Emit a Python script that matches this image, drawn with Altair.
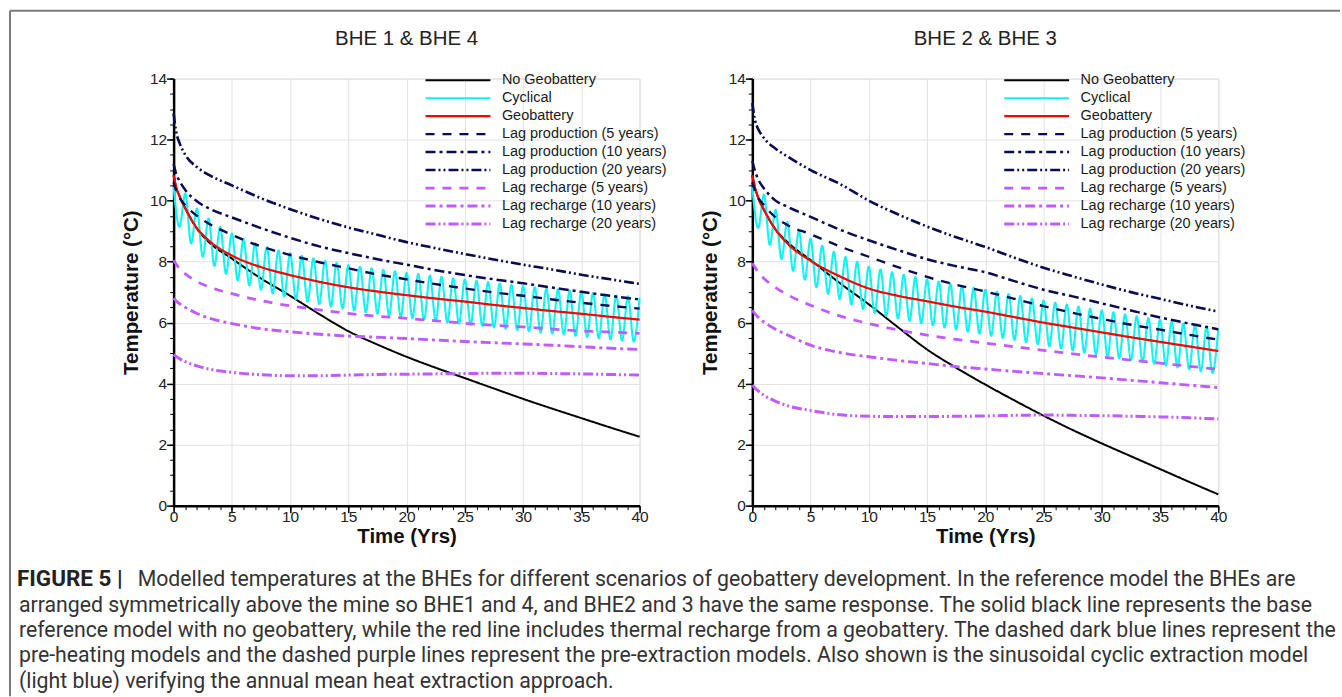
import altair as alt
import pandas as pd

SERIES = ["No Geobattery", "Cyclical", "Geobattery",
          "Lag production (5 years)", "Lag production (10 years)", "Lag production (20 years)",
          "Lag recharge (5 years)", "Lag recharge (10 years)", "Lag recharge (20 years)"]
COLORS = ["#000000", "#12F2F2", "#FF0000", "#0B0B50", "#0B0B50", "#0B0B50", "#BF5BFF", "#BF5BFF", "#BF5BFF"]
DASHES = [[1, 0], [1, 0], [1, 0], [9, 8], [10, 4, 3, 4], [10, 3, 2, 3, 2, 3], [9, 8], [10, 4, 3, 4], [10, 3, 2, 3, 2, 3]]
WIDTHS = [2, 3, 2, 2.5, 2.5, 2.5, 2.5, 2.5, 2.5]

TIME = [0, 0.25, 0.5, 1, 2, 3, 5, 7.5, 10, 12.5, 15, 17.5, 20, 22.5, 25, 27.5, 30, 32.5, 35, 37.5, 40]

# ---- BHE 1 & BHE 4 ----
L_NO_GEO = [10.83, 10.4, 10.15, 9.75, 9.08, 8.65, 8.1, 7.45, 6.88, 6.28, 5.72, 5.28, 4.88, 4.52, 4.18, 3.84, 3.5, 3.18, 2.87, 2.56, 2.26]
L_GEO = [10.83, 10.4, 10.15, 9.75, 9.1, 8.7, 8.2, 7.82, 7.56, 7.34, 7.16, 7.02, 6.9, 6.79, 6.69, 6.58, 6.48, 6.38, 6.29, 6.19, 6.1]
L_PROD5 = [10.6, 10.3, 10.1, 9.85, 9.5, 9.25, 8.88, 8.5, 8.22, 7.98, 7.78, 7.58, 7.42, 7.26, 7.12, 6.99, 6.88, 6.76, 6.65, 6.55, 6.46]
L_PROD10 = [11.2, 10.85, 10.65, 10.35, 9.98, 9.75, 9.45, 9.1, 8.78, 8.5, 8.28, 8.08, 7.9, 7.72, 7.56, 7.42, 7.29, 7.15, 7.01, 6.88, 6.76]
L_PROD20 = [12.85, 12.2, 11.9, 11.5, 11.1, 10.85, 10.5, 10.08, 9.72, 9.4, 9.12, 8.88, 8.64, 8.44, 8.25, 8.07, 7.9, 7.74, 7.57, 7.42, 7.27]
L_RECH5 = [8.05, 7.9, 7.78, 7.6, 7.35, 7.18, 6.95, 6.72, 6.55, 6.42, 6.3, 6.21, 6.14, 6.06, 5.98, 5.91, 5.86, 5.79, 5.73, 5.69, 5.65]
L_RECH10 = [6.8, 6.7, 6.62, 6.5, 6.3, 6.15, 5.97, 5.8, 5.7, 5.62, 5.56, 5.52, 5.48, 5.43, 5.38, 5.34, 5.3, 5.26, 5.21, 5.16, 5.12]
L_RECH20 = [4.95, 4.88, 4.82, 4.72, 4.58, 4.48, 4.37, 4.29, 4.26, 4.26, 4.28, 4.3, 4.31, 4.32, 4.33, 4.34, 4.34, 4.33, 4.32, 4.3, 4.28]
L_CYC_START = 10.45
L_CYC_PEAKS = [10.23, 9.74, 9.41, 9.14, 8.92, 8.74, 8.60, 8.48, 8.37, 8.28, 8.19, 8.11, 8.03, 7.96, 7.89, 7.83, 7.78, 7.73, 7.68, 7.63,
               7.59, 7.54, 7.50, 7.45, 7.41, 7.37, 7.33, 7.28, 7.24, 7.20, 7.16, 7.12, 7.09, 7.05, 7.01, 6.97, 6.93, 6.89, 6.86, 6.82]
L_CYC_TROUGHS = [9.14, 8.60, 8.16, 7.86, 7.60, 7.38, 7.22, 7.08, 6.96, 6.86, 6.77, 6.69, 6.61, 6.53, 6.46, 6.40, 6.34, 6.29, 6.24, 6.19,
                 6.15, 6.10, 6.06, 6.01, 5.97, 5.93, 5.89, 5.84, 5.80, 5.76, 5.72, 5.68, 5.64, 5.61, 5.57, 5.53, 5.49, 5.45, 5.41, 5.38]

# ---- BHE 2 & BHE 3 ----
R_NO_GEO = [10.83, 10.4, 10.1, 9.7, 9.05, 8.65, 8.05, 7.3, 6.6, 5.85, 5.12, 4.52, 3.97, 3.45, 2.95, 2.48, 2.04, 1.62, 1.2, 0.78, 0.37]
R_GEO = [10.83, 10.4, 10.1, 9.7, 9.05, 8.6, 8.03, 7.52, 7.12, 6.88, 6.7, 6.52, 6.36, 6.18, 6.0, 5.84, 5.68, 5.52, 5.37, 5.22, 5.07]
R_PROD5 = [10.6, 10.3, 10.1, 9.85, 9.45, 9.2, 8.9, 8.5, 8.16, 7.82, 7.5, 7.24, 7.02, 6.78, 6.54, 6.32, 6.12, 5.93, 5.77, 5.6, 5.44]
R_PROD10 = [11.3, 10.95, 10.7, 10.4, 10.0, 9.8, 9.47, 9.05, 8.7, 8.38, 8.08, 7.85, 7.65, 7.36, 7.08, 6.86, 6.63, 6.4, 6.17, 5.97, 5.78]
R_PROD20 = [13.2, 12.6, 12.35, 12.05, 11.7, 11.45, 11.0, 10.55, 10.0, 9.55, 9.15, 8.8, 8.48, 8.13, 7.8, 7.52, 7.25, 7.0, 6.78, 6.56, 6.36]
R_RECH5 = [7.95, 7.8, 7.65, 7.45, 7.15, 6.92, 6.57, 6.22, 5.97, 5.76, 5.59, 5.45, 5.33, 5.21, 5.09, 4.98, 4.87, 4.77, 4.67, 4.57, 4.47]
R_RECH10 = [6.4, 6.28, 6.18, 6.02, 5.78, 5.6, 5.26, 5.02, 4.88, 4.76, 4.66, 4.56, 4.48, 4.4, 4.33, 4.26, 4.19, 4.11, 4.03, 3.95, 3.87]
R_RECH20 = [3.95, 3.85, 3.76, 3.62, 3.42, 3.28, 3.12, 2.98, 2.93, 2.92, 2.92, 2.93, 2.94, 2.96, 2.97, 2.96, 2.95, 2.93, 2.91, 2.88, 2.84]
R_CYC_START = 10.45
R_CYC_PEAKS = [10.2, 9.7, 9.3, 9.0, 8.75, 8.52, 8.32, 8.15, 7.99, 7.84, 7.74, 7.65, 7.57, 7.49, 7.42, 7.35, 7.27, 7.21, 7.14, 7.08,
               7.01, 6.94, 6.87, 6.79, 6.72, 6.66, 6.59, 6.53, 6.46, 6.40, 6.34, 6.27, 6.21, 6.15, 6.09, 6.03, 5.97, 5.91, 5.85, 5.79]
R_CYC_TROUGHS = [9.1, 8.55, 8.08, 7.70, 7.41, 7.16, 6.95, 6.77, 6.60, 6.45, 6.32, 6.22, 6.14, 6.06, 5.98, 5.91, 5.84, 5.77, 5.70, 5.64,
                 5.57, 5.50, 5.43, 5.36, 5.29, 5.22, 5.15, 5.09, 5.02, 4.96, 4.90, 4.83, 4.77, 4.71, 4.65, 4.59, 4.53, 4.47, 4.41, 4.35]

X_MAJOR = [0, 5, 10, 15, 20, 25, 30, 35, 40]
X_MINOR = list(range(0, 41))
Y_MAJOR = [0, 2, 4, 6, 8, 10, 12, 14]
Y_MINOR = [i / 2 for i in range(0, 29)]

TITLES = ["BHE 1 & BHE 4", "BHE 2 & BHE 3"]
CAPTION_BOLD = "FIGURE 5 |"
CAPTION_LINES = [
    "Modelled temperatures at the BHEs for different scenarios of geobattery development. In the reference model the BHEs are",
    "arranged symmetrically above the mine so BHE1 and 4, and BHE2 and 3 have the same response. The solid black line represents the base",
    "reference model with no geobattery, while the red line includes thermal recharge from a geobattery. The dashed dark blue lines represent the",
    "pre-heating models and the dashed purple lines represent the pre-extraction models. Also shown is the sinusoidal cyclic extraction model",
    "(light blue) verifying the annual mean heat extraction approach.",
]

FONT = "Liberation Sans"
W, H = 467, 428
CAP_SIZE = 21.3
CAP_LH = 25.4


def build_df(curves, cyc_start, peaks, troughs):
    rows = []
    for s in SERIES:
        if s == "Cyclical":
            rows.append((0.0, cyc_start, s))
            for k in range(len(peaks)):
                rows.append((k + 0.5, troughs[k], s))
                rows.append((k + 1.0, peaks[k], s))
        else:
            for t, v in zip(TIME, curves[s]):
                rows.append((t, v, s))
    return pd.DataFrame(rows, columns=["t", "T", "series"])


ONE = pd.DataFrame({"k": [0]})


def panel(title, df, first=False):
    xs = alt.Scale(domain=[0, 40], nice=False, zero=False)
    ys = alt.Scale(domain=[0, 14], nice=False)
    leg = alt.Legend(orient="none", legendX=251, legendY=-7, title=None, symbolType="stroke",
                     symbolSize=4225, labelFont=FONT, labelFontSize=14.5, labelColor="#1a1a1a",
                     labelOffset=10, labelLimit=400, rowPadding=0, clipHeight=17.3, padding=0,
                     symbolLimit=0)
    xaxis = alt.Axis(values=X_MAJOR, format="d", title="Time (Yrs)", titleFont=FONT, titleFontSize=20.5,
                     titleFontWeight="bold", titleColor="#111", titlePadding=1,
                     labelFont=FONT, labelFontSize=15.5, labelColor="#222", labelPadding=-3,
                     labelFlush=False, labelOverlap=False,
                     tickSize=7, tickColor="#000", tickWidth=1.5, domainColor="#000", domainWidth=2.5,
                     grid=True, gridColor="#e2e2e2", gridWidth=1)
    yaxis = alt.Axis(values=Y_MAJOR, format="d", title="Temperature (°C)", titleFont=FONT, titleFontSize=20.5,
                     titleFontWeight="bold", titleColor="#111", titlePadding=8,
                     labelFont=FONT, labelFontSize=15.5, labelColor="#222", labelPadding=0,
                     labelFlush=False, labelOverlap=False,
                     tickSize=7, tickColor="#000", tickWidth=1.5, domainColor="#000", domainWidth=2.5,
                     grid=True, gridColor="#e2e2e2", gridWidth=1)
    lines = alt.Chart(df).mark_line(interpolate="monotone", strokeCap="butt").encode(
        x=alt.X("t:Q", scale=xs, axis=xaxis),
        y=alt.Y("T:Q", scale=ys, axis=yaxis),
        color=alt.Color("series:N", scale=alt.Scale(domain=SERIES, range=COLORS), legend=leg),
        strokeDash=alt.StrokeDash("series:N", scale=alt.Scale(domain=SERIES, range=DASHES), legend=leg),
        strokeWidth=alt.StrokeWidth("series:N", scale=alt.Scale(domain=SERIES, range=WIDTHS), legend=leg),
    )
    minor = alt.Chart(df).mark_point(opacity=0).encode(
        x=alt.X("t:Q", scale=xs, axis=alt.Axis(values=X_MINOR, labels=False, title=None, domain=False, grid=False,
                                                 tickSize=4, tickColor="#000", tickWidth=1, orient="bottom")),
        y=alt.Y("T:Q", scale=ys, axis=alt.Axis(values=Y_MINOR, labels=False, title=None, domain=False, grid=False,
                                                 tickSize=4, tickColor="#000", tickWidth=1, orient="left")),
    )
    ttl = alt.Chart(ONE).mark_text(font=FONT, fontSize=20.5, color="#222", align="center", baseline="middle").encode(
        x=alt.value(W / 2), y=alt.value(-40), text=alt.value(title))
    layers = [lines, minor, ttl]
    if first:
        top_rule = alt.Chart(ONE).mark_rule(color="#7a7a7a", strokeWidth=2).encode(
            x=alt.value(-164), x2=alt.value(1169), y=alt.value(-68))
        left_rule = alt.Chart(ONE).mark_rule(color="#7a7a7a", strokeWidth=2).encode(
            x=alt.value(-164), y=alt.value(-68), y2=alt.value(619))
        cap0 = H + 73 - 9
        bold = alt.Chart(ONE).mark_text(font="Roboto", fontSize=22.5, fontWeight="bold", color="#222",
                                        align="left", baseline="top").encode(
            x=alt.value(-157), y=alt.value(cap0 - 1), text=alt.value(CAPTION_BOLD))
        first_line = alt.Chart(ONE).mark_text(font="Roboto", fontSize=CAP_SIZE, color="#333",
                                              align="left", baseline="top").encode(
            x=alt.value(-36), y=alt.value(cap0), text=alt.value(CAPTION_LINES[0]))
        rest = alt.Chart(ONE).mark_text(font="Roboto", fontSize=CAP_SIZE, color="#333", align="left",
                                        baseline="top", lineBreak="\n", lineHeight=CAP_LH).encode(
            x=alt.value(-155), y=alt.value(cap0 + CAP_LH), text=alt.value("\n".join(CAPTION_LINES[1:])))
        layers += [top_rule, left_rule, bold, first_line, rest]
    return alt.layer(*layers).resolve_axis(x="independent", y="independent").properties(width=W, height=H)


left_curves = dict(zip(SERIES, [L_NO_GEO, None, L_GEO, L_PROD5, L_PROD10, L_PROD20, L_RECH5, L_RECH10, L_RECH20]))
right_curves = dict(zip(SERIES, [R_NO_GEO, None, R_GEO, R_PROD5, R_PROD10, R_PROD20, R_RECH5, R_RECH10, R_RECH20]))

left = panel(TITLES[0], build_df(left_curves, L_CYC_START, L_CYC_PEAKS, L_CYC_TROUGHS), first=True)
right = panel(TITLES[1], build_df(right_curves, R_CYC_START, R_CYC_PEAKS, R_CYC_TROUGHS))

chart = alt.hconcat(left, right, spacing=113, bounds="flush").resolve_legend(
    color="independent", strokeDash="independent", strokeWidth="independent"
).properties(
    padding={"left": 8, "top": 8, "right": 0, "bottom": 0}
).configure_view(stroke=None).configure(background="white")

chart.save("out.html", embed_options={"renderer": "svg", "actions": False})
